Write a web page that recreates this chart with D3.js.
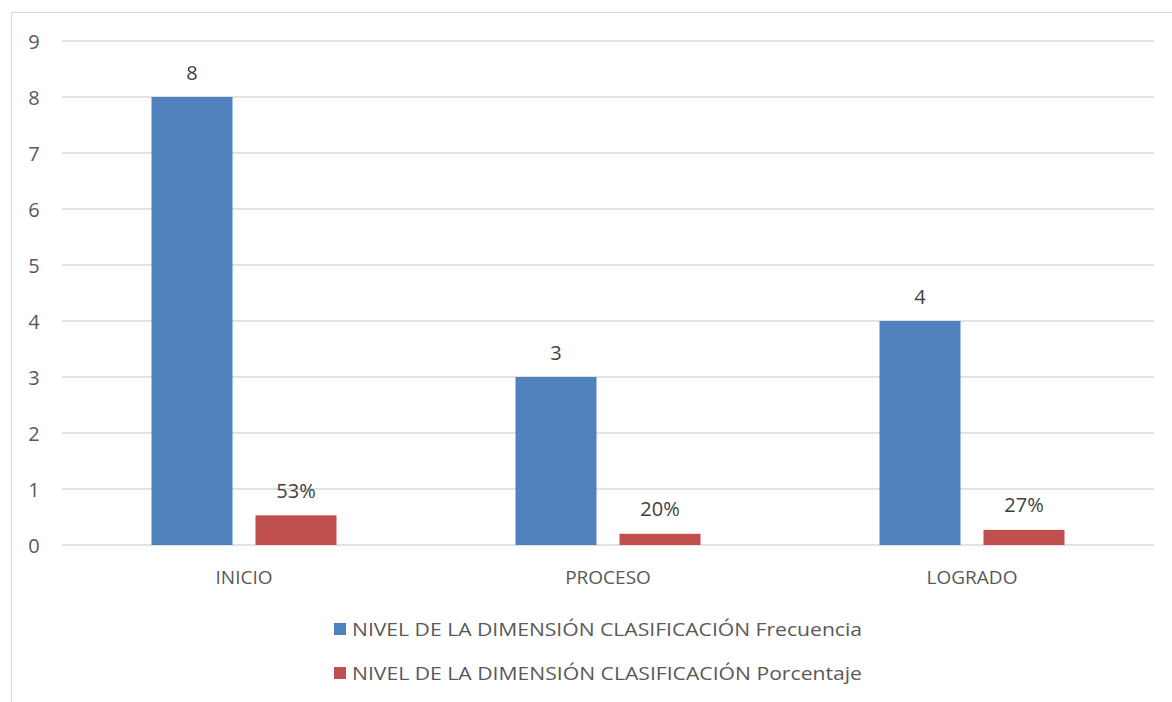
<!DOCTYPE html>
<html><head><meta charset="utf-8">
<script src="https://cdn.jsdelivr.net/npm/d3@7"></script>
<style>body{margin:0;background:#fff}svg{display:block}text{font-family:"Open Sans",sans-serif;fill:#595959}</style>
</head><body>
<svg id="c" width="1172" height="702"></svg>
<script>
const categories = ["INICIO", "PROCESO", "LOGRADO"];
const frecuencia = [8, 3, 4];
const porcentaje = [0.53, 0.20, 0.27];
const porcentajeLabels = ["53%", "20%", "27%"];
const yTicks = [0,1,2,3,4,5,6,7,8,9];
const seriesNames = ["NIVEL DE LA DIMENSIÓN CLASIFICACIÓN Frecuencia", "NIVEL DE LA DIMENSIÓN CLASIFICACIÓN Porcentaje"];
const colors = ["#4f81bd", "#c0504d"];

const svg = d3.select("#c");
svg.append("rect").attr("x",11.5).attr("y",12.5).attr("width",1200).attr("height",720)
  .attr("fill","#fff").attr("stroke","#d9d9d9");

const x0 = d3.scaleBand().domain(categories).range([62,1154]).paddingInner(0).paddingOuter(0);
const y = d3.scaleLinear().domain([0,9]).range([545,41]);

// gridlines
svg.append("g").selectAll("line").data(yTicks).join("line")
  .attr("x1",62).attr("x2",1154).attr("y1",d=>y(d)).attr("y2",d=>y(d))
  .attr("stroke","#d9d9d9").attr("stroke-width",1.3);

// y axis labels
const yAxis = d3.axisLeft(y).tickValues(yTicks).tickSize(0).tickPadding(0);
const ga = svg.append("g").attr("transform","translate(34,0)").call(yAxis);
ga.select(".domain").remove();
ga.selectAll("text").style("font-size","20px").style("fill","#595959").attr("text-anchor","middle").attr("dx",0).attr("dy","0.35em");

const barW = 81, gap = 23;
const bw = x0.bandwidth();
const groups = svg.append("g").selectAll("g").data(categories).join("g")
  .attr("transform", d=>`translate(${x0(d)+bw/2},0)`);

groups.append("rect").attr("x",-(barW+gap/2)).attr("width",barW)
  .attr("y",(d,i)=>y(frecuencia[i])).attr("height",(d,i)=>y(0)-y(frecuencia[i]))
  .attr("fill",colors[0]);
groups.append("rect").attr("x",gap/2).attr("width",barW)
  .attr("y",(d,i)=>y(porcentaje[i])).attr("height",(d,i)=>y(0)-y(porcentaje[i]))
  .attr("fill",colors[1]);

groups.append("text").attr("x",-(barW/2+gap/2)).attr("y",(d,i)=>y(frecuencia[i])-25)
  .attr("text-anchor","middle").attr("dominant-baseline","central").style("font-size","20px").style("fill","#404040")
  .text((d,i)=>frecuencia[i]);
groups.append("text").attr("x",barW/2+gap/2).attr("y",(d,i)=>y(porcentaje[i])-25)
  .attr("text-anchor","middle").attr("dominant-baseline","central").style("font-size","20px").style("fill","#404040")
  .text((d,i)=>porcentajeLabels[i]);

groups.append("text").attr("x",0).attr("y",577).attr("text-anchor","middle")
  .attr("dominant-baseline","central").style("font-size","19px").text(d=>d);

// legend
const leg = svg.append("g").selectAll("g").data(seriesNames).join("g")
  .attr("transform",(d,i)=>`translate(334,${629+i*44})`);
leg.append("rect").attr("x",0).attr("y",-6).attr("width",12).attr("height",12).attr("fill",(d,i)=>colors[i]);
leg.append("text").attr("x",18).attr("y",0).attr("dominant-baseline","central")
  .style("font-size","19px").attr("textLength",510).attr("lengthAdjust","spacingAndGlyphs").text(d=>d);
</script>
</body></html>
